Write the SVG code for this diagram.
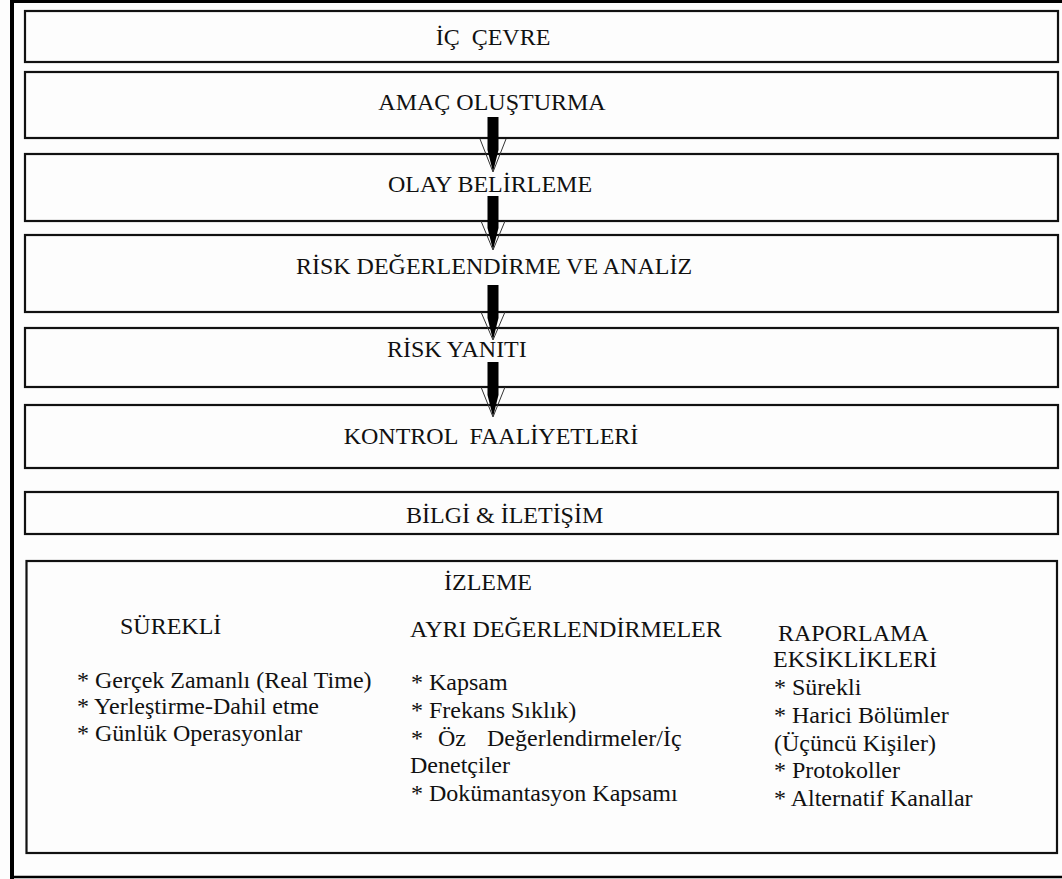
<svg xmlns="http://www.w3.org/2000/svg" width="1062" height="879" viewBox="0 0 1062 879">
  <style>
    .box { fill: none; stroke: #111; stroke-width: 2.2; }
    .frame { fill: none; stroke: #000; }
    .t { font-family: 'Liberation Serif', 'Times New Roman', serif; font-size: 24px; fill: #111; }
    .c { text-anchor: middle; }
    .arrow { fill: #000; }
    .vee { fill: none; stroke: #333; stroke-width: 1; }
  </style>
  <rect x="0" y="0" width="1062" height="879" fill="#fdfdfd"/>

  <!-- outer frame (right edge runs past the canvas) -->
  <g id="frame">
    <line class="frame" x1="12" y1="0" x2="12" y2="879" stroke-width="4"/>
    <line class="frame" x1="10" y1="1.5" x2="1062" y2="1.5" stroke-width="3"/>
    <line class="frame" x1="10" y1="877" x2="1062" y2="877" stroke-width="2.5"/>
  </g>

  <g id="ic-cevre">
    <rect class="box" x="25" y="11" width="1033" height="51"/>
    <text class="t c" x="493" y="45" xml:space="preserve">İÇ  ÇEVRE</text>
  </g>
  <g id="amac-olusturma">
    <rect class="box" x="25" y="72" width="1033" height="66"/>
    <text class="t c" x="492" y="110">AMAÇ OLUŞTURMA</text>
  </g>
  <g id="olay-belirleme">
    <rect class="box" x="25" y="154" width="1033" height="67"/>
    <text class="t c" x="490" y="192">OLAY BELİRLEME</text>
  </g>
  <g id="risk-degerlendirme">
    <rect class="box" x="25" y="235" width="1033" height="77"/>
    <text class="t c" x="494" y="274">RİSK DEĞERLENDİRME VE ANALİZ</text>
  </g>
  <g id="risk-yaniti">
    <rect class="box" x="25" y="328" width="1033" height="59"/>
    <text class="t" x="387" y="357">RİSK YANITI</text>
  </g>
  <g id="kontrol-faaliyetleri">
    <rect class="box" x="25" y="405" width="1033" height="63"/>
    <text class="t c" x="491" y="444" xml:space="preserve">KONTROL  FAALİYETLERİ</text>
  </g>
  <g id="bilgi-iletisim">
    <rect class="box" x="25" y="492" width="1033" height="42"/>
    <text class="t" x="406" y="523">BİLGİ &amp; İLETİŞİM</text>
  </g>
  <g id="izleme">
    <rect class="box" x="26.5" y="561" width="1030.5" height="292"/>
    <text class="t" x="444" y="590">İZLEME</text>
    <text class="t" x="120" y="634">SÜREKLİ</text>
    <text class="t" x="77" y="688">* Gerçek Zamanlı (Real Time)</text>
    <text class="t" x="77" y="714">* Yerleştirme-Dahil etme</text>
    <text class="t" x="77" y="741">* Günlük Operasyonlar</text>
    <text class="t" x="410" y="637">AYRI DEĞERLENDİRMELER</text>
    <text class="t" x="411" y="690">* Kapsam</text>
    <text class="t" x="411" y="718">* Frekans Sıklık)</text>
    <text class="t" y="746"><tspan x="411">*</tspan><tspan x="438">Öz</tspan><tspan x="487">Değerlendirmeler/İç</tspan></text>
    <text class="t" x="410" y="773">Denetçiler</text>
    <text class="t" x="411" y="801">* Dokümantasyon Kapsamı</text>
    <text class="t" x="778" y="641">RAPORLAMA</text>
    <text class="t" x="773" y="667">EKSİKLİKLERİ</text>
    <text class="t" x="774" y="695">* Sürekli</text>
    <text class="t" x="774" y="723">* Harici Bölümler</text>
    <text class="t" x="774" y="751">(Üçüncü Kişiler)</text>
    <text class="t" x="774" y="778">* Protokoller</text>
    <text class="t" x="774" y="806">* Alternatif Kanallar</text>
  </g>

  <!-- block arrows between the stacked stages -->
  <g id="connectors">
    <polygon class="arrow" points="487.5,117 498.5,117 498.5,150 493,172 487.5,150"/>
    <polyline class="vee" points="480,139 493,172 506,139"/>
    <polygon class="arrow" points="487.5,196 498.5,196 498.5,228 493,250 487.5,228"/>
    <polyline class="vee" points="481,221 493,250 505,221"/>
    <polygon class="arrow" points="487.5,285 498.5,285 498.5,318 493,340 487.5,318"/>
    <polyline class="vee" points="481,312 493,340 505,312"/>
    <polygon class="arrow" points="487.5,362 498.5,362 498.5,395 493,417 487.5,395"/>
    <polyline class="vee" points="481,387 493,417 505,387"/>
  </g>
</svg>
